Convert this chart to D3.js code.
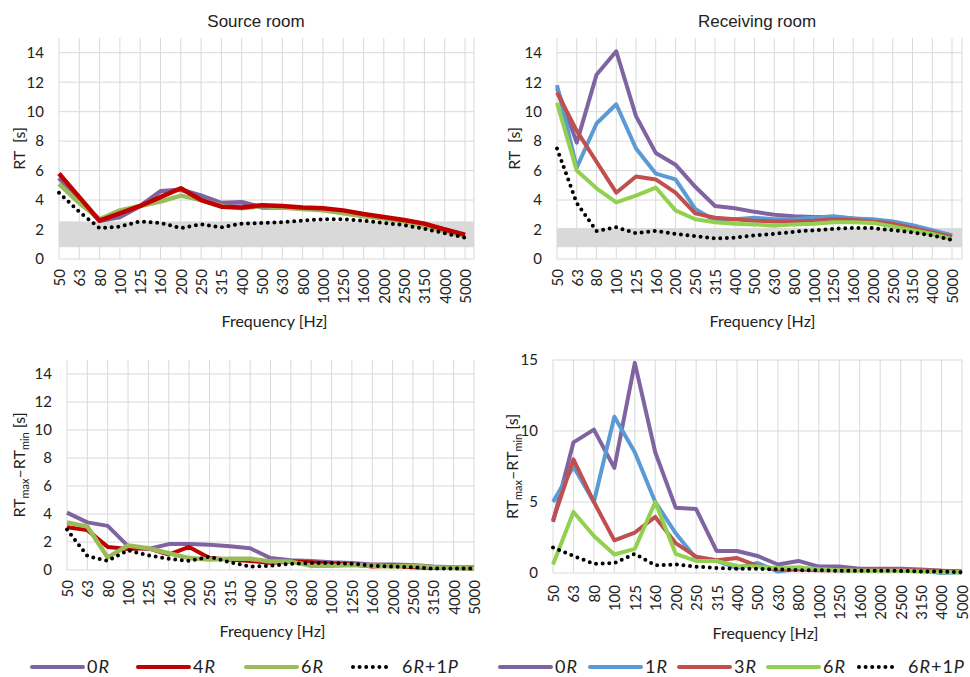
<!DOCTYPE html>
<html lang="en">
<head>
<meta charset="UTF-8">
<title>Reverberation time</title>
<script src="https://cdn.jsdelivr.net/npm/d3@7"></script>
<style>
  body { margin: 0; background: #fff; }
  text { font-family: Lato, "Open Sans", sans-serif; fill: #222; }
  .title { font-family: "Liberation Sans", Arial, sans-serif; font-size: 17px; }
</style>
</head>
<body>
<script>
  // categories
  let freqs = ["50", "63", "80", "100", "125", "160", "200", "250", "315", "400", "500",
    "630", "800", "1000", "1250", "1600", "2000", "2500", "3150", "4000", "5000"];

  // source room RT [s]
  let src0R = [5.5, 4.0, 2.6, 2.85, 3.6, 4.6, 4.7, 4.3, 3.8, 3.85, 3.5, 3.5, 3.45, 3.4, 3.2, 3.0, 2.8, 2.6, 2.3, 2.0, 1.6];
  let src4R = [5.8, 4.2, 2.6, 3.1, 3.6, 4.2, 4.8, 4.0, 3.55, 3.5, 3.65, 3.6, 3.5, 3.45, 3.3, 3.05, 2.85, 2.65, 2.4, 2.0, 1.65];
  let src6R = [5.1, 3.8, 2.7, 3.3, 3.6, 3.9, 4.3, 4.0, 3.6, 3.45, 3.6, 3.5, 3.4, 3.3, 3.1, 2.9, 2.75, 2.55, 2.25, 1.9, 1.55];
  let src6R1P = [4.5, 3.2, 2.1, 2.2, 2.55, 2.45, 2.1, 2.35, 2.15, 2.4, 2.45, 2.5, 2.6, 2.7, 2.7, 2.6, 2.45, 2.3, 2.05, 1.75, 1.45];

  // receiving room RT [s]
  let rec0R = [11.6, 7.9, 12.5, 14.1, 9.7, 7.2, 6.4, 4.9, 3.6, 3.45, 3.2, 3.0, 2.9, 2.85, 2.85, 2.75, 2.65, 2.5, 2.25, 1.9, 1.6];
  let rec1R = [11.8, 6.2, 9.2, 10.5, 7.5, 5.8, 5.4, 3.4, 2.6, 2.7, 2.8, 2.7, 2.7, 2.8, 2.9, 2.75, 2.7, 2.55, 2.3, 1.95, 1.6];
  let rec3R = [11.3, 8.7, 6.6, 4.5, 5.6, 5.4, 4.5, 3.1, 2.8, 2.7, 2.6, 2.55, 2.55, 2.6, 2.7, 2.65, 2.55, 2.4, 2.1, 1.8, 1.5];
  let rec6R = [10.6, 6.0, 4.8, 3.85, 4.3, 4.85, 3.3, 2.7, 2.5, 2.4, 2.35, 2.25, 2.35, 2.4, 2.5, 2.5, 2.45, 2.2, 1.95, 1.7, 1.35];
  let rec6R1P = [7.5, 3.8, 1.9, 2.15, 1.75, 1.9, 1.7, 1.55, 1.4, 1.45, 1.6, 1.7, 1.85, 1.95, 2.05, 2.1, 2.1, 1.95, 1.8, 1.6, 1.3];

  // RTmax - RTmin [s], source room
  let dSrc0R = [4.1, 3.4, 3.15, 1.7, 1.5, 1.85, 1.85, 1.8, 1.7, 1.55, 0.85, 0.7, 0.65, 0.55, 0.5, 0.4, 0.4, 0.35, 0.25, 0.2, 0.2];
  let dSrc4R = [3.05, 2.85, 1.65, 1.5, 1.55, 1.1, 1.65, 0.85, 0.75, 0.65, 0.5, 0.6, 0.55, 0.45, 0.4, 0.25, 0.3, 0.2, 0.15, 0.15, 0.1];
  let dSrc6R = [3.4, 3.1, 0.9, 1.75, 1.55, 1.2, 0.85, 0.75, 0.8, 0.8, 0.6, 0.6, 0.3, 0.3, 0.35, 0.3, 0.25, 0.3, 0.2, 0.15, 0.1];
  let dSrc6R1P = [2.9, 1.0, 0.65, 1.4, 1.05, 0.8, 0.65, 0.95, 0.55, 0.25, 0.3, 0.45, 0.5, 0.5, 0.45, 0.3, 0.25, 0.2, 0.1, 0.1, 0.1];

  // RTmax - RTmin [s], receiving room
  let dRec0R = [3.6, 9.2, 10.1, 7.4, 14.8, 8.5, 4.6, 4.5, 1.55, 1.55, 1.2, 0.6, 0.85, 0.45, 0.45, 0.3, 0.3, 0.3, 0.25, 0.15, 0.1];
  let dRec1R = [5.0, 7.5, 5.0, 11.0, 8.5, 5.0, 2.8, 1.0, 0.85, 0.35, 0.7, 0.1, 0.3, 0.3, 0.2, 0.2, 0.2, 0.2, 0.15, 0.0, 0.05];
  let dRec3R = [3.7, 8.0, 5.0, 2.3, 2.85, 3.95, 2.1, 1.15, 0.9, 1.05, 0.5, 0.25, 0.25, 0.2, 0.2, 0.2, 0.2, 0.2, 0.2, 0.15, 0.1];
  let dRec6R = [0.6, 4.3, 2.6, 1.3, 1.7, 5.0, 1.35, 0.85, 0.85, 0.5, 0.45, 0.35, 0.4, 0.25, 0.2, 0.15, 0.15, 0.15, 0.1, 0.05, 0.05];
  let dRec6R1P = [1.8, 1.2, 0.65, 0.7, 1.35, 0.55, 0.6, 0.45, 0.35, 0.3, 0.3, 0.25, 0.2, 0.2, 0.15, 0.15, 0.15, 0.15, 0.1, 0.1, 0.05];

  // y ticks and grey bands
  let rtTicks = [0, 2, 4, 6, 8, 10, 12, 14];
  let diffTicksBig = [0, 5, 10, 15];
  let srcBand = [0.8, 2.55];
  let recBand = [0.8, 2.1];

  let purple = "#8064A2", darkRed = "#C00000", oliveGreen = "#9BBB59",
    blue = "#5B9BD5", red = "#C0504D", green = "#92D050";

  let w = 970, h = 677;
  let svg = d3.select("body").append("svg").attr("width", w).attr("height", h);

  function drawPanel(p) {
    let x = d3.scalePoint().domain(freqs).range([p.left, p.lastX]);
    let y = d3.scaleLinear().domain([0, 15]).range([p.bottom, p.top]);
    let g = svg.append("g");

    // vertical grid
    let vx = freqs.map(f => x(f));
    if (p.right - p.lastX > 1) vx.push(p.right);
    g.selectAll(".vgrid").data(vx).enter().append("line")
      .attr("x1", d => d).attr("x2", d => d)
      .attr("y1", p.top).attr("y2", p.bottom)
      .attr("stroke", "#d9d9d9").attr("stroke-width", 1);

    // horizontal grid
    g.selectAll(".hgrid").data(p.ticks).enter().append("line")
      .attr("x1", p.left).attr("x2", p.right)
      .attr("y1", d => y(d)).attr("y2", d => y(d))
      .attr("stroke", "#d9d9d9").attr("stroke-width", 1);

    // grey band
    if (p.band) {
      g.append("rect")
        .attr("x", p.left).attr("width", p.right - p.left)
        .attr("y", y(p.band[1])).attr("height", y(p.band[0]) - y(p.band[1]))
        .attr("fill", "#d9d9d9");
    }

    // y axis
    let ya = g.append("g").attr("transform", "translate(" + p.left + ",0)")
      .call(d3.axisLeft(y).tickValues(p.ticks).tickSize(0).tickPadding(15));
    ya.select(".domain").remove();
    ya.selectAll("text").style("font-family", "Lato, sans-serif").style("font-size", "15px").attr("fill", "#222");

    // x axis
    let xa = g.append("g").attr("transform", "translate(0," + p.bottom + ")")
      .call(d3.axisBottom(x).tickSize(0));
    xa.select(".domain").remove();
    xa.selectAll("text")
      .attr("transform", "rotate(-90)")
      .attr("x", -p.labelGap).attr("y", 0).attr("dy", "0.36em")
      .style("text-anchor", "end")
      .style("font-family", "Lato, sans-serif").style("font-size", "15px").attr("fill", "#222");

    // series
    let line = d3.line().x((d, i) => x(freqs[i])).y(d => y(d));
    p.series.forEach(s => {
      let path = g.append("path").datum(s.values)
        .attr("d", line)
        .attr("fill", "none")
        .attr("stroke", s.color)
        .attr("stroke-width", s.width)
        .attr("stroke-linejoin", "round");
      if (s.dotted) {
        path.attr("stroke-dasharray", "0 6.6").attr("stroke-linecap", "round");
      }
    });

    // titles
    if (p.title) {
      svg.append("text").attr("class", "title")
        .attr("x", p.titleX).attr("y", 27)
        .attr("text-anchor", "middle").text(p.title);
    }
    svg.append("text")
      .attr("x", (p.left + p.right) / 2 + p.xTitleShift).attr("y", p.xTitleY)
      .attr("text-anchor", "middle")
      .style("font-size", "16px")
      .text("Frequency [Hz]");

    let yt = svg.append("text")
      .attr("transform", "translate(" + p.yTitleX + "," + ((p.top + p.bottom) / 2) + ") rotate(-90)")
      .attr("text-anchor", "middle")
      .style("font-size", "16px");
    if (p.diff) {
      yt.append("tspan").text("RT");
      yt.append("tspan").attr("font-size", "11px").attr("dy", 4).text("max");
      yt.append("tspan").attr("dy", -4).text("\u2013RT");
      yt.append("tspan").attr("font-size", "11px").attr("dy", 4).text("min");
      yt.append("tspan").attr("dy", -4).text(" [s]");
    } else {
      yt.attr("xml:space", "preserve").text("RT  [s]");
    }
  }

  drawPanel({
    title: "Source room", titleX: 256,
    left: 59, right: 474, lastX: 465, top: 38, bottom: 259,
    ticks: rtTicks, band: srcBand, labelGap: 10, xTitleY: 327, xTitleShift: 8, yTitleX: 25,
    series: [
      { values: src0R, color: purple, width: 4.5 },
      { values: src6R, color: oliveGreen, width: 4.5 },
      { values: src4R, color: darkRed, width: 4.5 },
      { values: src6R1P, color: "#000", width: 4, dotted: true }
    ]
  });

  drawPanel({
    title: "Receiving room", titleX: 757,
    left: 557, right: 962, lastX: 952, top: 38, bottom: 259,
    ticks: rtTicks, band: recBand, labelGap: 10, xTitleY: 327, xTitleShift: 3, yTitleX: 520,
    series: [
      { values: rec0R, color: purple, width: 4 },
      { values: rec1R, color: blue, width: 4 },
      { values: rec3R, color: red, width: 4 },
      { values: rec6R, color: green, width: 4 },
      { values: rec6R1P, color: "#000", width: 4, dotted: true }
    ]
  });

  drawPanel({
    left: 67, right: 474, lastX: 474, top: 360, bottom: 570,
    ticks: rtTicks, labelGap: 10, xTitleY: 637, xTitleShift: 2, yTitleX: 25, diff: true,
    series: [
      { values: dSrc0R, color: purple, width: 4 },
      { values: dSrc4R, color: darkRed, width: 4 },
      { values: dSrc6R, color: oliveGreen, width: 4.5 },
      { values: dSrc6R1P, color: "#000", width: 4, dotted: true }
    ]
  });

  drawPanel({
    left: 553, right: 962, lastX: 962, top: 360, bottom: 573,
    ticks: diffTicksBig, labelGap: 12, xTitleY: 639, xTitleShift: 8, yTitleX: 518, diff: true,
    series: [
      { values: dRec0R, color: purple, width: 4 },
      { values: dRec1R, color: blue, width: 4 },
      { values: dRec3R, color: red, width: 4 },
      { values: dRec6R, color: green, width: 4 },
      { values: dRec6R1P, color: "#000", width: 4, dotted: true }
    ]
  });

  // legends
  let legendItems = [
    { x: 32, label: ["0", "R"], color: purple },
    { x: 138, label: ["4", "R"], color: darkRed },
    { x: 246, label: ["6", "R"], color: oliveGreen },
    { x: 350, label: ["6", "R", "+1", "P"], color: "#000", dotted: true },
    { x: 500, label: ["0", "R"], color: purple },
    { x: 590, label: ["1", "R"], color: blue },
    { x: 679, label: ["3", "R"], color: red },
    { x: 768, label: ["6", "R"], color: green },
    { x: 856, label: ["6", "R", "+1", "P"], color: "#000", dotted: true }
  ];
  let ly = 667;
  legendItems.forEach(it => {
    let len = it.dotted ? 40 : 51;
    let ln = svg.append("line")
      .attr("x1", it.x + (it.dotted ? 3 : 0)).attr("x2", it.x + len)
      .attr("y1", ly).attr("y2", ly)
      .attr("stroke", it.color).attr("stroke-width", 4)
      .attr("stroke-linecap", "round");
    if (it.dotted) ln.attr("stroke-dasharray", "0 6.6");
    let t = svg.append("text").attr("x", it.x + len + (it.dotted ? 12 : 4)).attr("y", ly + 6)
      .style("font-size", "18px").style("letter-spacing", "1px");
    it.label.forEach((s, i) => {
      t.append("tspan").attr("font-style", i % 2 ? "italic" : "normal").text(s);
    });
  });
</script>
</body>
</html>
